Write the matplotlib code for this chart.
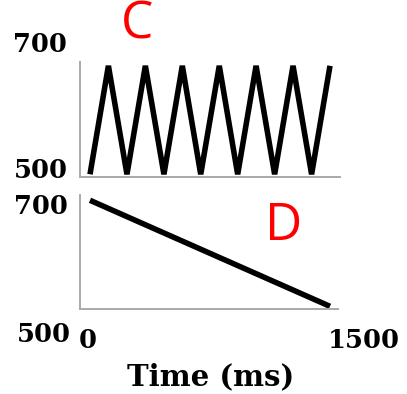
import matplotlib
matplotlib.use("Agg")
import matplotlib.pyplot as plt

# Panel C: alternating triangle sweep between 500 and 700 over 1500 ms
sweep_times = [0, 115, 231, 346, 462, 577, 692, 808, 923, 1038, 1154, 1269, 1385, 1500]
sweep_values = [500, 700, 500, 700, 500, 700, 500, 700, 500, 700, 500, 700, 500, 700]

# Panel D: single linear ramp from 700 down to 500
ramp_times = [0, 1500]
ramp_values = [700, 500]

y_tick_labels = ["500", "700"]
x_tick_labels = ["0", "1500"]
x_label = "Time (ms)"
panel_labels = ["C", "D"]

W, H = 407, 394
fig = plt.figure(figsize=(W / 100, H / 100), dpi=100)
fig.patch.set_facecolor("white")


def px_axes(left, top, right, bottom):
    return fig.add_axes([left / W, 1 - bottom / H, (right - left) / W, (bottom - top) / H])


axis_color = "#a9a9a9"
line_kw = dict(color="black", lw=4.0, solid_joinstyle="miter", solid_capstyle="butt")

ax_c = px_axes(80, 62, 340, 177)
ax_c.plot(sweep_times, sweep_values, **line_kw)
ax_c.set_xlim(-62.5, 1562.5)
ax_c.set_ylim(495, 707)

ax_d = px_axes(80, 195, 338, 309)
ax_d.plot(ramp_times, ramp_values, **line_kw)
ax_d.set_xlim(-62.5, 1550)
ax_d.set_ylim(495, 710)

for ax in (ax_c, ax_d):
    ax.set_xticks([])
    ax.set_yticks([])
    for side in ("top", "right"):
        ax.spines[side].set_visible(False)
    for side in ("left", "bottom"):
        ax.spines[side].set_color(axis_color)
        ax.spines[side].set_linewidth(1.4)
    ax.patch.set_alpha(0)


def px_text(x, y, s, **kw):
    fig.text(x / W, 1 - y / H, s, **kw)


num_kw = dict(family="DejaVu Serif", weight="heavy", fontsize=18.5, color="black",
              ha="center", va="center")

# Value labels for both panels
px_text(40, 45, y_tick_labels[1], **num_kw)
px_text(41, 171, y_tick_labels[0], **num_kw)
px_text(41, 207, y_tick_labels[1], **num_kw)
px_text(44, 334, y_tick_labels[0], **num_kw)
px_text(88, 340, x_tick_labels[0], **num_kw)
px_text(364, 340, x_tick_labels[1], **num_kw)

px_text(211, 385, x_label, family="DejaVu Serif", weight="heavy", fontsize=21,
        color="black", ha="center", va="baseline")

# Panel letters
letter_kw = dict(family="Open Sans", fontsize=37, color="#ff0000", ha="center", va="center")
px_text(137, 25, panel_labels[0], **letter_kw)
px_text(284, 226, panel_labels[1], **letter_kw)

fig.savefig("out.png", dpi=100, facecolor="white")
